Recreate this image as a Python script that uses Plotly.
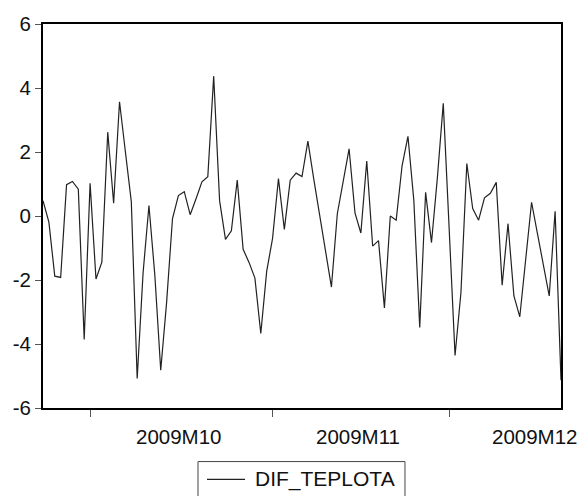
import pandas as pd
import plotly.graph_objects as go

# ---- data ----
start_date = "2009-09-23"
dif_teplota = [
    0.48, -0.19, -1.88, -1.92, 0.98, 1.08, 0.84, -3.86, 1.02, -1.97,
    -1.44, 2.62, 0.40, 3.57, 2.0, 0.45, -5.08, -1.78, 0.33, -1.85,
    -4.82, -2.7, -0.08, 0.64, 0.76, 0.04, 0.54, 1.07, 1.23, 4.37,
    0.48, -0.73, -0.46, 1.12, -1.04, -1.45, -1.94, -3.67, -1.73, -0.70,
    1.17, -0.42, 1.12, 1.34, 1.23, 2.34, 1.15, 0.05, -1.1, -2.22,
    0.07, 1.08, 2.10, 0.1, -0.53, 1.72, -0.94, -0.77, -2.87, 0.0,
    -0.13, 1.57, 2.49, 0.48, -3.48, 0.74, -0.83, 1.20, 3.52, -0.4,
    -4.36, -2.4, 1.64, 0.23, -0.13, 0.57, 0.71, 1.05, -2.16, -0.24,
    -2.50, -3.15, -1.31, 0.43, -0.55, -1.52, -2.50, 0.15, -5.13,
]
month_starts = ["2009-10-01", "2009-11-01", "2009-12-01"]
month_label_pos = ["2009-10-16", "2009-11-15 12:00", "2009-12-15 12:00"]
month_labels = ["2009M10", "2009M11", "2009M12"]
y_tickvals = [-6, -4, -2, 0, 2, 4, 6]
y_ticktext = ["-6", "-4", "-2", "0", "2", "4", "6"]
series_name = "DIF_TEPLOTA"

dates = pd.date_range(start_date, periods=len(dif_teplota), freq="D")

FONT = "Arial, Liberation Sans, sans-serif"
LINE_COLOR = "#222222"

fig = go.Figure()
fig.add_trace(go.Scatter(
    x=dates, y=dif_teplota, mode="lines", name=series_name,
    line=dict(color=LINE_COLOR, width=1.2), showlegend=False,
))

annotations = [
    dict(x=pos, y=0, xref="x", yref="paper", text=lab, showarrow=False,
         yanchor="top", xanchor="center", yshift=-15,
         font=dict(family=FONT, size=20.5, color="#111111"))
    for pos, lab in zip(month_label_pos, month_labels)
]
# legend (drawn manually so it can be clipped by the page bottom like the reference)
annotations.append(dict(
    x=0.4054, y=-0.186, xref="paper", yref="paper", text=series_name,
    showarrow=False, xanchor="left", yanchor="middle",
    font=dict(family=FONT, size=21, color="#111111"),
))
shapes = [
    dict(type="rect", xref="paper", yref="paper", x0=0.2992, x1=0.6988,
         y0=-0.2377, y1=-0.1395, line=dict(color="#444444", width=1),
         fillcolor="rgba(0,0,0,0)"),
    dict(type="line", xref="paper", yref="paper", x0=0.3166, x1=0.39,
         y0=-0.186, y1=-0.186, line=dict(color=LINE_COLOR, width=1.2)),
]

fig.update_layout(
    width=582, height=496,
    margin=dict(l=43, r=21, t=21, b=88),
    paper_bgcolor="white", plot_bgcolor="white",
    font=dict(family=FONT, size=20.5, color="#111111"),
    showlegend=False,
    annotations=annotations,
    shapes=shapes,
)
fig.update_xaxes(
    type="date", range=[dates[0], dates[-1]],
    tickmode="array", tickvals=month_starts, ticktext=["", "", ""],
    ticks="outside", ticklen=7, tickcolor="#555555", tickwidth=1,
    showline=True, linecolor="black", linewidth=2, mirror=True,
    showgrid=False, zeroline=False,
)
fig.update_yaxes(
    range=[-6, 6], tickmode="array", tickvals=y_tickvals, ticktext=y_ticktext,
    ticks="outside", ticklen=6, tickcolor="#555555", tickwidth=1,
    showline=True, linecolor="black", linewidth=2, mirror=True,
    showgrid=False, zeroline=False,
    tickfont=dict(family=FONT, size=20.5, color="#111111"),
)

fig.write_html("out.html")
